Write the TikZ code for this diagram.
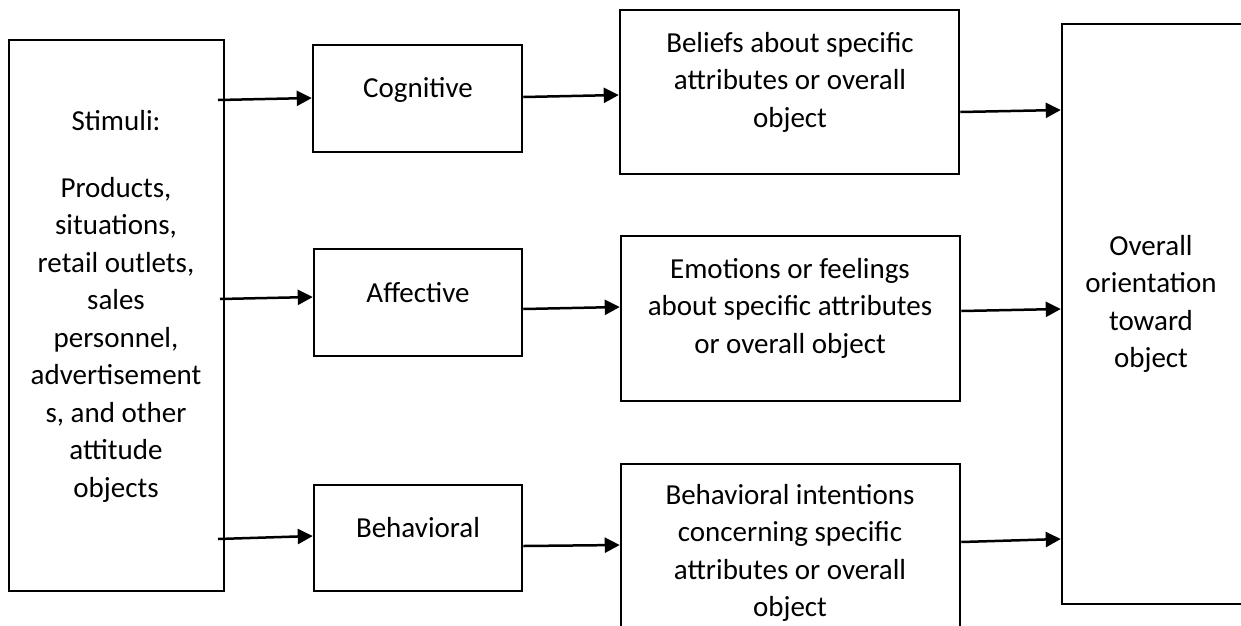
\documentclass[tikz,border=0pt]{standalone}
\usepackage{fontspec}
\setmainfont{Carlito}
\usetikzlibrary{arrows.meta}
\begin{document}
\begin{tikzpicture}[x=1pt,y=-1pt,
  box/.style={draw=black, line width=2.5pt, rectangle, inner sep=0pt, fill=none},
  txt/.style={font=\fontsize{29}{37.5}\selectfont, align=center, inner sep=0pt, anchor=base},
  arr/.style={line width=2.5pt, -{Triangle[length=15pt,width=15pt]}}]
\clip (0,0) rectangle (1241,625);
\fill[white] (0,0) rectangle (1241,625);
% boxes
\node[box, minimum width=215pt, minimum height=551pt] (stim) at (116.5,315.5) {};
\node[box, minimum width=209pt, minimum height=107pt] (cog) at (417.5,98.5) {};
\node[box, minimum width=208pt, minimum height=107pt] (aff) at (418,302.5) {};
\node[box, minimum width=208pt, minimum height=106pt] (beh) at (418,538) {};
\node[box, minimum width=339pt, minimum height=164pt] (bel) at (789.5,92) {};
\node[box, minimum width=339pt, minimum height=165pt] (emo) at (790.5,318.5) {};
\node[box, minimum width=339pt, minimum height=186pt] (bint) at (790.5,557) {};
\node[box, minimum width=198pt, minimum height=580pt] (ovr) at (1161,314) {};
% texts (anchor = baseline of last line)
\node[txt] (stimtxt) at (116,497) {Stimuli:\\[29.5pt]Products,\\situations,\\retail outlets,\\sales\\personnel,\\advertisement\\s, and other\\attitude\\objects};
\node[txt] (cogtxt) at (418,97) {Cognitive};
\node[txt] (afftxt) at (418,302) {Affective};
\node[txt] (behtxt) at (418,537) {Behavioral};
\node[txt] (beltxt) at (790,127) {Beliefs about specific\\attributes or overall\\object};
\node[txt] (emotxt) at (790,353) {Emotions or feelings\\about specific attributes\\or overall object};
\node[txt] (binttxt) at (790,616.5) {Behavioral intentions\\concerning specific\\attributes or overall\\object};
\node[txt] (ovrtxt) at (1151,367.5) {Overall\\orientation\\toward\\object};
% arrow free ends
\coordinate (s1) at (218,100);
\coordinate (s2) at (220,299);
\coordinate (s3) at (218,539);
% arrows
\draw[arr] (s1) -- ([yshift=0.5pt]cog.west);
\draw[arr] (s2) -- ([yshift=5.5pt]aff.west);
\draw[arr] (s3) -- ([yshift=2pt]beh.west);
\draw[arr] ([yshift=1.5pt]cog.east) -- ([yshift=-3pt]bel.west);
\draw[arr] ([yshift=-6.5pt]aff.east) -- ([yshift=11.5pt]emo.west);
\draw[arr] ([yshift=-8pt]beh.east) -- ([yshift=12pt]bint.west);
\draw[arr] ([yshift=-20pt]bel.east) -- ([yshift=204pt]ovr.west);
\draw[arr] ([yshift=7.5pt]emo.east) -- ([yshift=5pt]ovr.west);
\draw[arr] ([yshift=15pt]bint.east) -- ([yshift=-225pt]ovr.west);
\end{tikzpicture}
\end{document}
